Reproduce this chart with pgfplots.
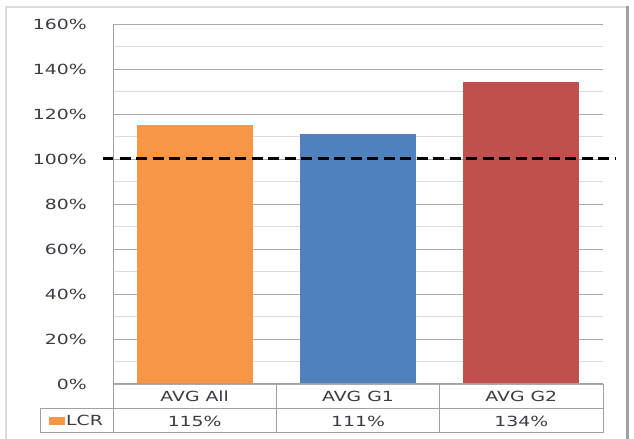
\documentclass[border=0pt]{standalone}
\usepackage{pgfplots}
\pgfplotsset{compat=1.18}
\usepackage{fontspec}
\setmainfont{DejaVu Sans}[FakeStretch=1.35]
\definecolor{txt}{RGB}{60,60,70}
\definecolor{cOrange}{RGB}{247,150,70}
\definecolor{cBlue}{RGB}{79,129,189}
\definecolor{cRed}{RGB}{192,80,77}
\definecolor{gmaj}{RGB}{170,170,170}
\definecolor{gmin}{RGB}{220,220,220}
\definecolor{tbl}{RGB}{160,160,160}
\begin{document}
\begin{tikzpicture}[x=1bp,y=1bp]
\useasboundingbox (0,0) rectangle (634,439);
\fill[white] (0,0) rectangle (634,439);
\draw[gmin, line width=1.5bp] (6,-5) -- (6,432) -- (627,432);
\draw[gray!75, line width=3bp] (627.5,432.5) -- (627.5,-5);
\begin{axis}[
  at={(113bp,55bp)}, anchor=south west,
  scale only axis, width=490bp, height=360bp,
  xmin=-0.5, xmax=2.5, ymin=0, ymax=160,
  ytick={0,20,...,160}, minor ytick={10,30,...,150},
  ymajorgrids, yminorgrids,
  major grid style={gmaj, line width=0.9bp},
  minor grid style={gmin, line width=0.9bp},
  axis line style={draw=none},
  major tick length=0pt, minor tick length=0pt,
  xtick={0,1,2},
  xticklabels={{AVG All\\115\%},{AVG G1\\111\%},{AVG G2\\134\%}},
  xticklabel style={align=center, anchor=north, inner sep=0pt, yshift=-6.7bp, text=txt, font=\fontsize{14}{25.5}\selectfont},
  yticklabel={\pgfmathprintnumber[assume math mode=true]{\tick}\%},
  yticklabel style={anchor=east, inner sep=0pt, xshift=-26bp, text=txt, font=\fontsize{14}{17}\selectfont},
  legend style={at={(axis description cs:-0.0745,-0.1025)}, anchor=center, draw=none, fill=none, inner sep=0pt, font=\fontsize{14}{17}\selectfont, text=txt, legend cell align=left, nodes={inner sep=1.5bp}},
  clip=false,
]
\addplot[ybar, bar width=116bp, bar shift=0pt, fill=cOrange, draw=none,
  legend image code/.code={\fill[cOrange] (0bp,-4bp) rectangle (16bp,4bp);}] coordinates {(0,115)};
\addlegendentry{LCR}
\addplot[ybar, bar width=116bp, bar shift=0pt, fill=cBlue, draw=none, forget plot] coordinates {(1,111)};
\addplot[ybar, bar width=116bp, bar shift=0pt, fill=cRed, draw=none, forget plot] coordinates {(2,134)};
\addplot[black, line width=3bp, dash pattern=on 11bp off 5.5bp, forget plot] coordinates {(-0.561,100) (2.574,100)};
\end{axis}
\begin{scope}[tbl, line width=1bp]
\draw (113,415) -- (113,6);
\draw (113,55) -- (603,55);
\draw (40,30) -- (603,30);
\draw (40,6) -- (603,6);
\draw (40,30) -- (40,6);
\draw (276,55) -- (276,6);
\draw (439,55) -- (439,6);
\draw (603,55) -- (603,6);
\end{scope}
\end{tikzpicture}
\end{document}
